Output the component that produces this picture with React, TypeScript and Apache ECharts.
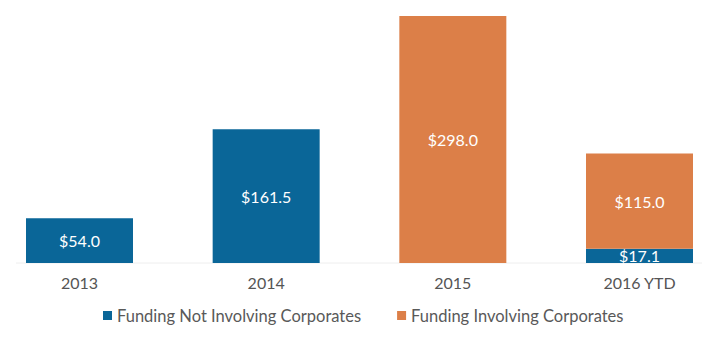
import React, { useEffect, useRef } from "react";
import * as echarts from "echarts";

const categories = ["2013", "2014", "2015", "2016 YTD"];
const notInvolving = [54.0, 161.5, 0, 17.1];
const involving = [0, 0, 298.0, 115.0];
const seriesNames = ["Funding Not Involving Corporates", "Funding Involving Corporates"];

export default function App() {
  const ref = useRef<HTMLDivElement>(null);
  useEffect(() => {
    document.body.style.margin = "0";
    const chart = echarts.init(ref.current!, null, { renderer: "svg" });
    const font = "Lato, 'Open Sans', sans-serif";
    const label = {
      show: true,
      position: "inside" as const,
      color: "#ffffff",
      fontFamily: font,
      fontSize: 16,
      formatter: (p: any) => (p.value > 0 ? "$" + Number(p.value).toFixed(1) : ""),
    };
    chart.setOption({
      animation: false,
      backgroundColor: "#ffffff",
      grid: { left: 79.5, right: 79.5, top: 16, bottom: 95, containLabel: false },
      legend: {
        data: seriesNames,
        bottom: 29,
        left: 98,
        icon: "rect",
        itemWidth: 9,
        itemHeight: 9,
        itemGap: 36,
        textStyle: { color: "#595959", fontFamily: font, fontSize: 16.5 },
      },
      xAxis: {
        type: "category",
        data: categories,
        boundaryGap: false,
        axisLine: { show: false },
        axisTick: { show: false },
        axisLabel: { color: "#555555", fontFamily: font, fontSize: 16, margin: 11 },
      },
      yAxis: {
        type: "value",
        min: 0,
        max: 298,
        show: false,
        splitLine: { show: false },
      },
      graphic: [
        {
          type: "line",
          shape: { x1: 16, y1: 263, x2: 702, y2: 263 },
          style: { stroke: "#eeeeee", lineWidth: 1 },
          z: 0,
        },
      ],
      series: [
        {
          name: seriesNames[0],
          type: "bar",
          stack: "a",
          data: notInvolving,
          barWidth: 107,
          clip: false,
          itemStyle: { color: "#0a6698" },
          label,
        },
        {
          name: seriesNames[1],
          type: "bar",
          stack: "a",
          data: involving,
          barWidth: 107,
          clip: false,
          itemStyle: { color: "#dc7f48" },
          label,
        },
      ],
    });
    return () => chart.dispose();
  }, []);
  return <div ref={ref} style={{ width: 719, height: 358 }} />;
}
